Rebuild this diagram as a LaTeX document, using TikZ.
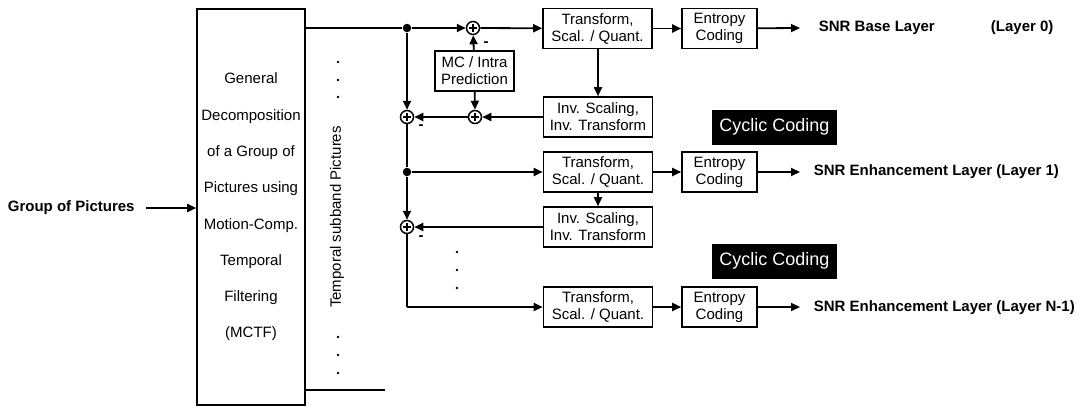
\documentclass[tikz,border=0pt]{standalone}
\usepackage{fontspec}
\setmainfont{Liberation Sans}
\usetikzlibrary{arrows.meta}
\begin{document}
\begin{tikzpicture}[x=1pt,y=-1pt,
  line width=1.8pt,
  font=\fontsize{15}{17}\selectfont,
  >={Triangle[length=9pt,width=8pt]},
  blk/.style={draw,line width=1.6pt,align=center,inner sep=0pt,
    minimum width=109pt,minimum height=40pt},
  ebox/.style={blk,minimum width=75pt},
  sum/.style={circle,draw,line width=1.5pt,minimum size=13pt,inner sep=0pt,
    path picture={\draw[line width=1.4pt]
      ([xshift=-3.6pt]path picture bounding box.center) -- ([xshift=3.6pt]path picture bounding box.center)
      ([yshift=-3.6pt]path picture bounding box.center) -- ([yshift=3.6pt]path picture bounding box.center);}},
  junc/.style={circle,fill,minimum size=8.5pt,inner sep=0pt},
  pt/.style={circle,fill,minimum size=2.6pt,inner sep=0pt},
  outtxt/.style={anchor=west,font=\fontsize{15}{17}\selectfont\bfseries,inner sep=0pt},
  cyc/.style={fill=black,text=white,font=\fontsize{18}{20}\selectfont,
    minimum width=125pt,minimum height=35pt,inner sep=0pt},
  minus/.style={inner sep=0pt,font=\fontsize{15}{17}\selectfont\bfseries}]
\useasboundingbox (0,0) rectangle (1086,407);

% input and temporal decomposition
\node[outtxt] (gop) at (7,208) {Group of Pictures};
\node[draw,line width=1.6pt,minimum width=108pt,minimum height=396pt,inner sep=0pt,
  align=center,font=\fontsize{15}{36.3}\selectfont] (mctf) at (251,207)
  {General\\Decomposition\\of a Group of\\Pictures using\\Motion-Comp.\\Temporal\\Filtering\\(MCTF)};
\draw[->] ([xshift=11pt]gop.east) -- (mctf.west |- gop.east);

\coordinate (top) at (305,28);
\coordinate (bot) at (305,390);
\coordinate (botend) at (385,390);
\draw (bot) -- (botend);

\node[rotate=90] (tsp) at (337,217) {Temporal subband Pictures};
\foreach \y [count=\i] in {62,80,97,337,355,373}
  \node[pt] (d\i) at (338,\y) {};

% base layer
\node[junc] (b1) at (407,28) {};
\node[sum] (s1) at (473,28) {};
\node[blk] (tq1) at (597.5,28.5) {Transform,\\Scal. / Quant.};
\node[ebox] (ec1) at (719.5,28.5) {Entropy\\Coding};
\node[outtxt] (o1) at (818,28) {SNR Base Layer};
\node[outtxt] (l0) at (990,28) {(Layer 0)};
\node[blk,minimum width=79pt] (mc) at (474.5,71) {MC / Intra\\Prediction};
\node[blk] (inv1) at (598,117) {Inv. Scaling,\\Inv. Transform};
\node[sum] (s2) at (475,117) {};
\node[sum] (s3) at (407,117) {};

\draw (top) -- (b1);
\draw[->] (b1) -- (s1);
\draw[->] (s1) -- (tq1);
\draw[->] (tq1) -- (ec1);
\draw[->] (ec1) -- ([xshift=-18pt]o1.west);
\draw[->] (mc) -- (s1);
\draw[->] (tq1.south -| inv1) -- (inv1);
\draw[->] (inv1) -- (s2);
\draw[->] (s2) -- (s3);
\draw[->] (mc) -- (s2);
\draw[->] (b1) -- (s3);
\node[minus] at (486,44) {-};
\node[minus] at (421,127) {-};

\node[cyc] (cc1) at (774.5,127) {Cyclic Coding};

% first enhancement layer
\node[junc] (b2) at (407,172) {};
\node[blk] (tq2) at (598,172) {Transform,\\Scal. / Quant.};
\node[ebox] (ec2) at (719.5,172) {Entropy\\Coding};
\node[outtxt] (o2) at (813,172) {SNR Enhancement Layer (Layer 1)};
\node[blk] (inv2) at (598,227) {Inv. Scaling,\\Inv. Transform};
\node[sum] (s4) at (407,227) {};

\draw (s3) -- (b2);
\draw[->] (b2) -- (tq2);
\draw[->] (tq2) -- (ec2);
\draw[->] (ec2) -- ([xshift=-13pt]o2.west);
\draw[->] (tq2) -- (inv2);
\draw[->] (inv2) -- (s4);
\draw[->] (b2) -- (s4);
\node[minus] at (421,238) {-};

\foreach \y [count=\i] in {252,270,288}
  \node[pt] (m\i) at (457,\y) {};

\node[cyc] (cc2) at (774.5,261) {Cyclic Coding};

% last enhancement layer
\coordinate (c3) at (407,307);
\node[blk] (tq3) at (598,307) {Transform,\\Scal. / Quant.};
\node[ebox] (ec3) at (719.5,307) {Entropy\\Coding};
\node[outtxt] (o3) at (813,308) {SNR Enhancement Layer (Layer N-1)};

\draw (s4) -- (c3);
\draw[->] (c3) -- (tq3);
\draw[->] (tq3) -- (ec3);
\draw[->] (ec3) -- ([xshift=-13pt]o3.west |- ec3);
\end{tikzpicture}
\end{document}
